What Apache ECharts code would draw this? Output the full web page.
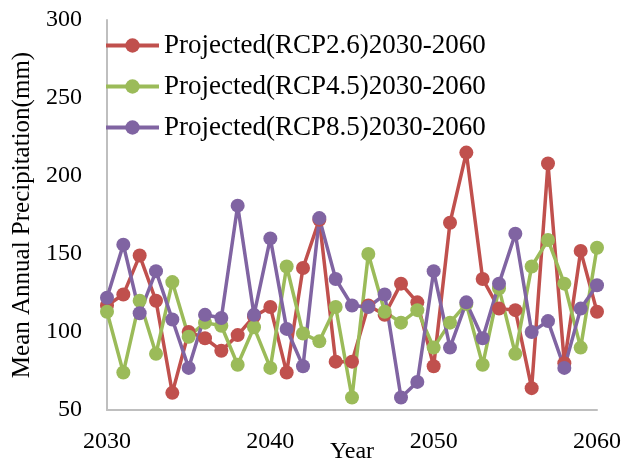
<!DOCTYPE html>
<html>
<head>
<meta charset="utf-8">
<script src="https://cdn.jsdelivr.net/npm/echarts@6/dist/echarts.min.js"></script>
<style>html,body{margin:0;padding:0;background:#fff}#c{width:625px;height:465px}</style>
</head>
<body>
<div id="c"></div>
<script>
var years = [2030,2031,2032,2033,2034,2035,2036,2037,2038,2039,2040,2041,2042,2043,2044,2045,2046,2047,2048,2049,2050,2051,2052,2053,2054,2055,2056,2057,2058,2059,2060];
var rcp26 = [117,124,149,120,61,100,96,88,98,110,116,74,141,172,81,81,117,111,131,119,78,170,215,134,115,114,64,208,80,152,113];
var rcp45 = [113,74,120,86,132,97,106,104,79,103,77,142,99,94,116,58,150,113,106,114,90,106,118,79,128,86,142,159,131,90,154];
var rcp85 = [122,156,112,139,108,77,111,109,181,111,160,102,78,173,134,117,116,124,58,68,139,90,119,96,131,163,100,107,77,115,130];
var seriesNames = ['Projected(RCP2.6)2030-2060','Projected(RCP4.5)2030-2060','Projected(RCP8.5)2030-2060'];
var colors = ['#C0504D','#9BBB59','#8064A2'];
var yTicks = [50,100,150,200,250,300];
var xTicks = [2030,2040,2050,2060];

function pairs(v){ return years.map(function(y,i){ return [y, v[i]]; }); }
var font = '"Liberation Serif","Times New Roman",serif';
var chart = echarts.init(document.getElementById('c'));
var allData = [rcp26, rcp45, rcp85];
chart.setOption({
  animation: false,
  backgroundColor: '#fff',
  color: colors,
  grid: {left: 107, right: 28, top: 20, bottom: 55, containLabel: false, outerBoundsMode: 'none'},
  legend: {
    orient: 'vertical', left: 99, top: 27, itemGap: 14,
    itemWidth: 53, itemHeight: 18,
    lineStyle: {width: 4},
    textStyle: {fontFamily: font, fontSize: 27, color: '#000'},
    data: seriesNames
  },
  xAxis: {
    type: 'value', min: xTicks[0], max: xTicks[xTicks.length-1], interval: 10,
    name: 'Year', nameLocation: 'middle', nameGap: 30, nameMoveOverlap: false,
    nameTextStyle: {fontFamily: font, fontSize: 24, color: '#000'},
    axisLine: {lineStyle: {color: '#BFBFBF', width: 2}},
    axisTick: {show: false},
    splitLine: {show: false},
    axisLabel: {fontFamily: font, fontSize: 24, color: '#000', margin: 20,
      formatter: function(v){ return String(v); }}
  },
  yAxis: {
    type: 'value', min: yTicks[0], max: yTicks[yTicks.length-1], interval: 50,
    name: 'Mean Annual Precipitation(mm)', nameLocation: 'middle', nameGap: 72, nameMoveOverlap: false,
    nameTextStyle: {fontFamily: font, fontSize: 25, color: '#000'},
    axisLine: {show: true, lineStyle: {color: '#BFBFBF', width: 2}},
    axisTick: {show: false},
    splitLine: {show: false},
    axisLabel: {fontFamily: font, fontSize: 24, color: '#000', margin: 25}
  },
  series: seriesNames.map(function(n, i){
    return {
      name: n, type: 'line', data: pairs(allData[i]),
      symbol: 'circle', symbolSize: 14,
      lineStyle: {width: 3.5, color: colors[i]},
      itemStyle: {color: colors[i]}
    };
  })
});
</script>
</body>
</html>
